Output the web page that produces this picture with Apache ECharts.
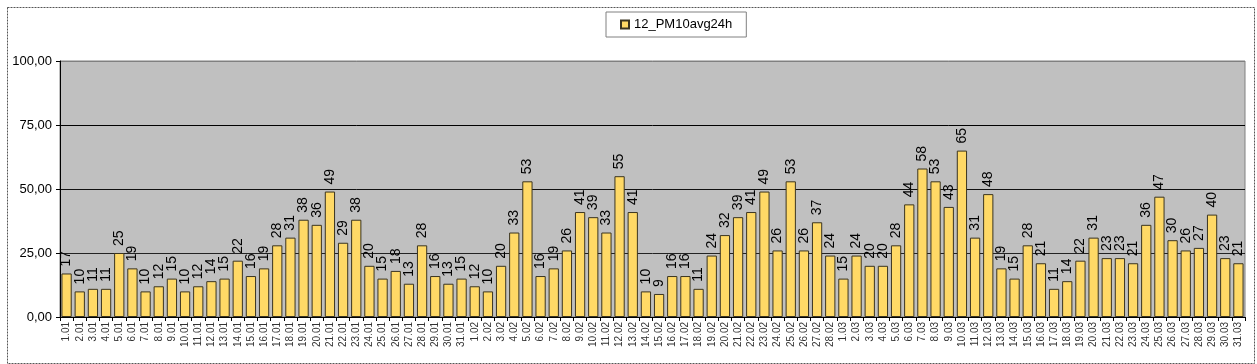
<!DOCTYPE html>
<html>
<head>
<meta charset="utf-8">
<script src="https://cdn.jsdelivr.net/npm/echarts@6/dist/echarts.min.js"></script>
<style>
html,body{margin:0;padding:0;background:#fff;}
#chart{width:1257px;height:364px;}
</style>
</head>
<body>
<div id="chart"></div>
<script>
const seriesName = '12_PM10avg24h';
const janLabels = ['1.01','2.01','3.01','4.01','5.01','6.01','7.01','8.01','9.01','10.01','11.01','12.01','13.01','14.01','15.01','16.01','17.01','18.01','19.01','20.01','21.01','22.01','23.01','24.01','25.01','26.01','27.01','28.01','29.01','30.01','31.01'];
const febLabels = ['1.02','2.02','3.02','4.02','5.02','6.02','7.02','8.02','9.02','10.02','11.02','12.02','13.02','14.02','15.02','16.02','17.02','18.02','19.02','20.02','21.02','22.02','23.02','24.02','25.02','26.02','27.02','28.02'];
const marLabels = ['1.03','2.03','3.03','4.03','5.03','6.03','7.03','8.03','9.03','10.03','11.03','12.03','13.03','14.03','15.03','16.03','17.03','18.03','19.03','20.03','21.03','22.03','23.03','24.03','25.03','26.03','27.03','28.03','29.03','30.03','31.03'];
const janValues = [17,10,11,11,25,19,10,12,15,10,12,14,15,22,16,19,28,31,38,36,49,29,38,20,15,18,13,28,16,13,15];
const febValues = [12,10,20,33,53,16,19,26,41,39,33,55,41,10,9,16,16,11,24,32,39,41,49,26,53,26,37,24];
const marValues = [15,24,20,20,28,44,58,53,43,65,31,48,19,15,28,21,11,14,22,31,23,23,21,36,47,30,26,27,40,23,21];
const yTicks = [0,25,50,75,100];

const categories = janLabels.concat(febLabels, marLabels);
const values = janValues.concat(febValues, marValues);

const chart = echarts.init(document.getElementById('chart'), null, {renderer:'canvas'});
const font = 'Liberation Sans, Arial, sans-serif';
chart.setOption({
  animation: false,
  textStyle: {fontFamily: font},
  graphic: [{
    type: 'rect', left: 5, top: 5, z: -10,
    shape: {width: 1247, height: 356},
    style: {fill: 'none', stroke: '#555', lineWidth: 1, lineDash: [2, 1]}
  }],
  legend: {
    data: [seriesName],
    left: 606, top: 12,
    backgroundColor: '#fff',
    borderColor: '#808080', borderWidth: 1,
    padding: [6, 14, 6, 14],
    itemWidth: 8, itemHeight: 8, itemGap: 4,
    icon: 'rect',
    textStyle: {fontFamily: font, fontSize: 13, color: '#000'}
  },
  grid: {left: 60, right: 12, top: 61, bottom: 47, show: true, backgroundColor: '#C0C0C0', borderColor: '#808080', borderWidth: 1},
  xAxis: {
    type: 'category', data: categories,
    axisLine: {lineStyle: {color: '#000', width: 1}},
    axisTick: {show: true, alignWithLabel: false, length: 4, lineStyle: {color: '#000'}},
    axisLabel: {interval: 0, rotate: 90, fontSize: 10, color: '#333', margin: 5, fontFamily: font}
  },
  yAxis: {
    type: 'value', min: yTicks[0], max: yTicks[yTicks.length-1], interval: 25,
    axisLine: {show: true, lineStyle: {color: '#000', width: 1}},
    axisTick: {show: true, length: 4, lineStyle: {color: '#000'}},
    axisLabel: {fontSize: 13, color: '#000', margin: 8, fontFamily: font,
      formatter: v => v.toFixed(2).replace('.', ',')},
    splitLine: {show: true, lineStyle: {color: ['#808080','#222','#111','#000','#808080'], width: 1}}
  },
  series: [{
    name: seriesName, type: 'bar', data: values,
    barCategoryGap: '22%',
    itemStyle: {color: '#FFD966', borderColor: '#3a3420', borderWidth: 1},
    label: {
      show: true, position: 'top', rotate: 90, distance: 7,
      align: 'left', verticalAlign: 'middle',
      fontSize: 14, color: '#000', fontFamily: font,
      formatter: p => Math.round(p.value)
    }
  }]
});
</script>
</body>
</html>
